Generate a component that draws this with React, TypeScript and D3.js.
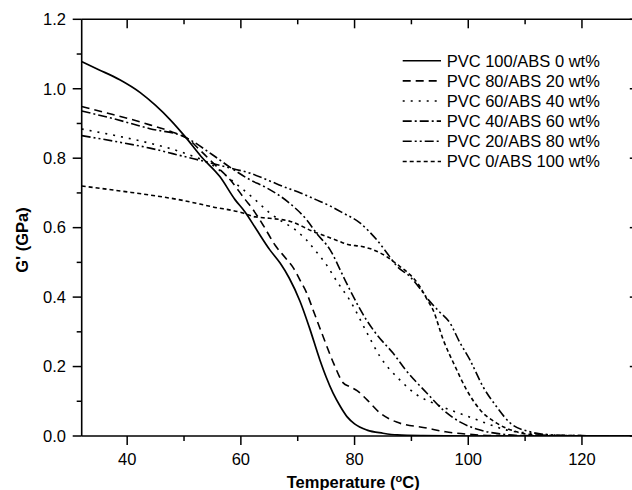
import React from "react";
import * as d3 from "d3";

const tempPVC100 = [32, 35, 38.7, 42.3, 45, 47.5, 50.2, 53, 56.3, 59, 60.7, 62.8, 65.1, 66.9, 68.5, 70.4, 72, 73.9, 75, 76.2, 77.5, 78.7, 80, 82.2, 85, 87.5, 92, 100, 130];
const gPVC100 = [1.078, 1.055, 1.026, 0.989, 0.952, 0.912, 0.862, 0.805, 0.747, 0.68, 0.646, 0.593, 0.536, 0.498, 0.455, 0.388, 0.315, 0.219, 0.17, 0.124, 0.085, 0.055, 0.035, 0.017, 0.008, 0.003, 0.001, 0, 0];

const tempPVC80 = [32, 36, 40, 44, 48, 50.5, 53, 55.5, 58, 60.8, 62, 64, 66, 68, 69.2, 70.4, 71.6, 72.7, 74.5, 76.3, 78, 79.2, 80.5, 82.2, 84.5, 87.4, 92.7, 96, 100, 105, 130];
const gPVC80 = [0.949, 0.932, 0.915, 0.896, 0.875, 0.858, 0.82, 0.78, 0.74, 0.68, 0.655, 0.605, 0.55, 0.51, 0.485, 0.449, 0.411, 0.363, 0.285, 0.21, 0.153, 0.142, 0.13, 0.104, 0.066, 0.04, 0.023, 0.012, 0.005, 0.001, 0];

const tempPVC60 = [32, 38, 44, 50, 55, 58.5, 62.2, 65.1, 67, 69.5, 71.5, 73.3, 75.1, 76.9, 79.2, 82.1, 84.5, 88, 91, 93.8, 96.8, 99.7, 102.6, 106.8, 112.6, 118, 130];
const gPVC60 = [0.884, 0.865, 0.843, 0.815, 0.78, 0.735, 0.685, 0.642, 0.62, 0.595, 0.565, 0.53, 0.492, 0.445, 0.39, 0.3, 0.228, 0.161, 0.118, 0.095, 0.075, 0.058, 0.04, 0.017, 0.006, 0.001, 0];

const tempPVC40 = [32, 38, 44, 50, 55, 58, 61.6, 64.5, 68.6, 71.6, 73.3, 75.7, 78, 79.2, 82.1, 84, 86.8, 89, 92.7, 95.6, 98.6, 102.1, 105.6, 110, 130];
const gPVC40 = [0.936, 0.912, 0.885, 0.862, 0.81, 0.775, 0.738, 0.715, 0.67, 0.622, 0.584, 0.536, 0.46, 0.42, 0.334, 0.29, 0.238, 0.19, 0.124, 0.075, 0.04, 0.017, 0.006, 0.001, 0];

const tempPVC20 = [32, 38, 44, 50, 55, 58, 61.6, 65, 67.5, 70.5, 73.3, 76, 78, 81, 82.5, 83.9, 85.7, 87.4, 89.8, 91.5, 93, 94.8, 96.8, 98.5, 100.3, 102.6, 105, 107.4, 110.9, 114.4, 120, 130];
const gPVC20 = [0.865, 0.848, 0.829, 0.805, 0.785, 0.772, 0.757, 0.735, 0.718, 0.7, 0.68, 0.66, 0.642, 0.613, 0.59, 0.565, 0.527, 0.49, 0.458, 0.425, 0.392, 0.36, 0.325, 0.27, 0.219, 0.142, 0.084, 0.037, 0.012, 0.003, 0.001, 0];

const tempPVC0 = [32, 40, 44, 49.3, 55, 60.4, 62.2, 65, 68.7, 72.7, 75, 77.4, 78.5, 81.5, 83, 85.7, 88, 89.8, 91.5, 92.8, 93.8, 95.6, 97.7, 99.7, 102.1, 105, 108.5, 112, 120, 130];
const gPVC0 = [0.72, 0.703, 0.694, 0.68, 0.66, 0.642, 0.632, 0.627, 0.618, 0.589, 0.575, 0.56, 0.553, 0.545, 0.538, 0.516, 0.488, 0.464, 0.43, 0.392, 0.363, 0.277, 0.2, 0.133, 0.075, 0.037, 0.012, 0.003, 0.001, 0];

const seriesLabels = [
  "PVC 100/ABS 0 wt%",
  "PVC 80/ABS 20 wt%",
  "PVC 60/ABS 40 wt%",
  "PVC 40/ABS 60 wt%",
  "PVC 20/ABS 80 wt%",
  "PVC 0/ABS 100 wt%",
];
const seriesTemps = [tempPVC100, tempPVC80, tempPVC60, tempPVC40, tempPVC20, tempPVC0];
const seriesValues = [gPVC100, gPVC80, gPVC60, gPVC40, gPVC20, gPVC0];
const dashes = ["", "8,5", "2,6", "9,3,2,3", "9,3,2,3,2,3", "4,3"];

const xMajor = [40, 60, 80, 100, 120];
const xMinor = [50, 70, 90, 110, 130];
const yMajor = [0, 0.2, 0.4, 0.6, 0.8, 1.0, 1.2];
const yMinor = [0.1, 0.3, 0.5, 0.7, 0.9, 1.1];

const W = 632, H = 490;
const L = 81.7, R = 638.8, T = 19.3, B = 436;
const FONT = "'Liberation Sans', Arial, sans-serif";

export default function App() {
  const x = d3.scaleLinear().domain([32, 130]).range([L, R]);
  const y = d3.scaleLinear().domain([0, 1.2]).range([B, T]);
  const line = d3
    .line<[number, number]>()
    .x((d) => x(d[0]))
    .y((d) => y(d[1]))
    .curve(d3.curveMonotoneX);
  const fmt = d3.format(".1f");

  return (
    <div style={{ position: "fixed", left: 0, top: 0, width: W, height: H, background: "#fff" }}>
      <svg width={W} height={H} style={{ display: "block", fontFamily: FONT }}>
        <rect x={0} y={0} width={W} height={H} fill="#fff" />
        <defs>
          <clipPath id="plot">
            <rect x={L} y={T} width={R - L} height={B - T} />
          </clipPath>
        </defs>
        <g clipPath="url(#plot)">
          {seriesValues.map((vals, i) => {
            const pts: [number, number][] = vals.map((v, j) => [seriesTemps[i][j], v]);
            return (
              <path
                key={i}
                d={line(pts) || ""}
                fill="none"
                stroke="#000"
                strokeWidth={i === 0 ? 1.7 : 1.6}
                strokeDasharray={dashes[i] || undefined}
              />
            );
          })}
        </g>
        <g stroke="#000" strokeWidth={1.6} fill="none">
          <line x1={L} x2={R} y1={B} y2={B} />
          <line x1={L} x2={R} y1={T} y2={T} />
          <line x1={L} x2={L} y1={T} y2={B} />
          <line x1={R} x2={R} y1={T} y2={B} />
        </g>
        <g stroke="#000" strokeWidth={1.5}>
          {xMajor.map((v) => (
            <g key={"xm" + v}>
              <line x1={x(v)} x2={x(v)} y1={B} y2={B + 9} />
              <line x1={x(v)} x2={x(v)} y1={T} y2={T + 9} />
            </g>
          ))}
          {xMinor.map((v) => (
            <g key={"xn" + v}>
              <line x1={x(v)} x2={x(v)} y1={B} y2={B + 5} />
              <line x1={x(v)} x2={x(v)} y1={T} y2={T + 5} />
            </g>
          ))}
          {yMajor.map((v) => (
            <g key={"ym" + v}>
              <line x1={L - 9} x2={L} y1={y(v)} y2={y(v)} />
              <line x1={R - 9} x2={R} y1={y(v)} y2={y(v)} />
            </g>
          ))}
          {yMinor.map((v) => (
            <g key={"yn" + v}>
              <line x1={L - 5} x2={L} y1={y(v)} y2={y(v)} />
              <line x1={R - 5} x2={R} y1={y(v)} y2={y(v)} />
            </g>
          ))}
        </g>
        <g fontSize={16.5} fill="#000">
          {xMajor.map((v) => (
            <text key={"xl" + v} x={x(v)} y={465} textAnchor="middle">
              {v}
            </text>
          ))}
          {yMajor.map((v) => (
            <text key={"yl" + v} x={66} y={y(v) + 5.8} textAnchor="end">
              {fmt(v)}
            </text>
          ))}
        </g>
        <text x={(L + R) / 2 - 7} y={488} textAnchor="middle" fontSize={16.5} fontWeight="bold">
          Temperature (
          <tspan fontSize={11} dy={-6}>o</tspan>
          <tspan dy={6}>C)</tspan>
        </text>
        <text
          transform={`translate(27.5, 240) rotate(-90)`}
          textAnchor="middle"
          fontSize={16.5}
          fontWeight="bold"
        >
          G' (GPa)
        </text>
        <g>
          {seriesLabels.map((s, i) => {
            const cy = 60.7 + i * 20.15;
            return (
              <g key={s}>
                <line
                  x1={402.7}
                  x2={441}
                  y1={cy}
                  y2={cy}
                  stroke="#000"
                  strokeWidth={1.6}
                  strokeDasharray={dashes[i] || undefined}
                />
                <text x={446.7} y={cy + 5.8} fontSize={16.5}>
                  {s}
                </text>
              </g>
            );
          })}
        </g>
      </svg>
    </div>
  );
}
